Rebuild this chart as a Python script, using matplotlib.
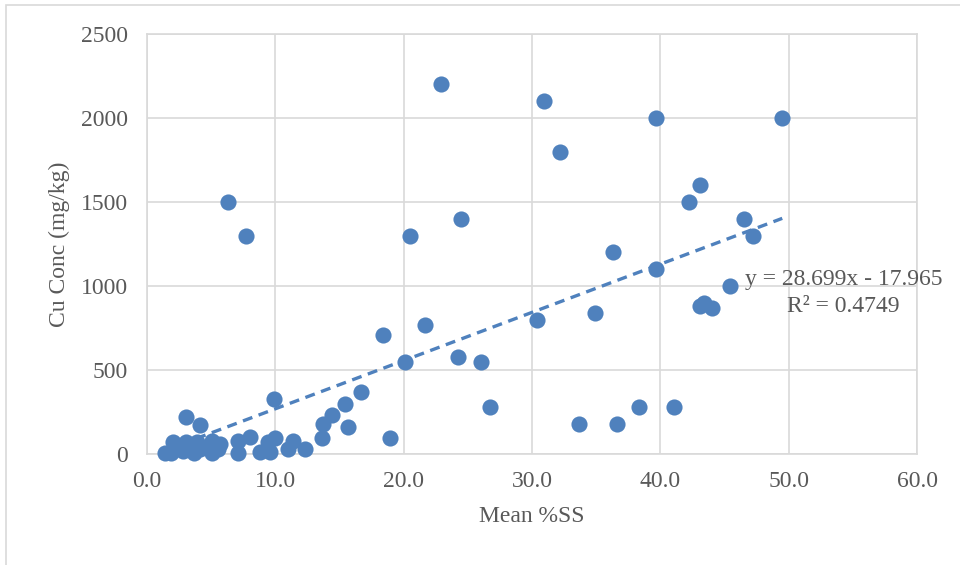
import numpy as np
import matplotlib
matplotlib.use('Agg')
import matplotlib.pyplot as plt
from matplotlib.patches import Rectangle

# --- dane ---
mean_ss = [
    6.3, 7.7, 22.9, 30.9, 32.2, 39.7, 49.5, 43.1, 42.2, 46.5, 47.2, 24.5, 20.5,
    36.3, 39.7, 45.4, 43.1, 43.4, 44.0, 34.9, 30.4, 21.7, 18.4, 24.2, 20.1, 26.0,
    16.7, 15.4, 14.4, 13.7, 15.7, 13.6, 26.7, 33.7, 36.6, 38.3, 41.1, 18.9, 9.9,
    3.0, 4.1,
    2.0, 3.0, 3.9, 5.1, 5.7, 7.1, 8.0, 9.4, 10.0, 11.4, 12.3, 11.0,
    1.4, 1.9, 2.8, 3.7, 5.1, 5.5, 7.1, 8.8, 9.6, 4.1,
]
cu_conc = [
    1500, 1300, 2200, 2100, 1800, 2000, 2000, 1600, 1500, 1400, 1300, 1400, 1300,
    1200, 1100, 1000, 880, 900, 870, 840, 800, 770, 710, 580, 550, 550,
    370, 300, 230, 180, 160, 95, 280, 180, 180, 280, 280, 95, 330,
    220, 170,
    69, 71, 69, 79, 59, 79, 99, 73, 93, 79, 30, 30,
    6, 6, 20, 6, 6, 30, 6, 14, 14, 30,
]
slope = 28.699
intercept = -17.965
r2 = 0.4749

x_ticks = [0, 10, 20, 30, 40, 50, 60]
y_ticks = [0, 500, 1000, 1500, 2000, 2500]

BLUE = '#4F81BD'
GRID = '#d9d9d9'
TXT = '#595959'

plt.rcParams['font.family'] = ['Liberation Serif', 'DejaVu Serif']

fig = plt.figure(figsize=(9.6, 5.65), dpi=100)
ax = fig.add_axes([147 / 960, 1 - 454 / 565, (917 - 147) / 960, (454 - 34) / 565])

# ramka obszaru wykresu (widac tylko lewa i gorna krawedz)
fig.patches.append(Rectangle((6 / 960, -0.2), 1.2, 1.2 - 5 / 565,
                             transform=fig.transFigure, fill=False,
                             edgecolor=GRID, linewidth=1.2))

ax.scatter(mean_ss, cu_conc, s=135, color=BLUE, zorder=3, linewidths=0,
           clip_on=False)

xs = np.array([min(mean_ss), max(mean_ss)])
ax.plot(xs, slope * xs + intercept, color=BLUE, linewidth=2.4,
        linestyle=(0, (3, 2)), zorder=4)

ax.set_xlim(0, 60)
ax.set_ylim(0, 2500)
ax.set_xticks(x_ticks)
ax.set_xticklabels([f'{v:.1f}' for v in x_ticks])
ax.set_yticks(y_ticks)
ax.grid(True, color=GRID, linewidth=1.2, zorder=0)
ax.set_axisbelow(True)
for sp in ax.spines.values():
    sp.set_color(GRID)
    sp.set_linewidth(1.2)
ax.tick_params(length=0, labelsize=17, labelcolor=TXT)
ax.tick_params(axis='x', pad=12)
ax.tick_params(axis='y', pad=14)

ax.set_xlabel('Mean %SS', fontsize=17, color=TXT)
ax.set_ylabel('Cu Conc (mg/kg)', fontsize=17, color=TXT)
ax.xaxis.set_label_coords(0.5, -0.125)
ax.yaxis.set_label_coords(-0.1, 0.5)

ax.text(46.6, 1039, f'y = {slope}x - {abs(intercept)}', fontsize=17,
        color=TXT, va='center', ha='left')
ax.text(49.9, 880, f'R² = {r2}', fontsize=17, color=TXT, va='center', ha='left')

fig.savefig('out.png', dpi=100)
